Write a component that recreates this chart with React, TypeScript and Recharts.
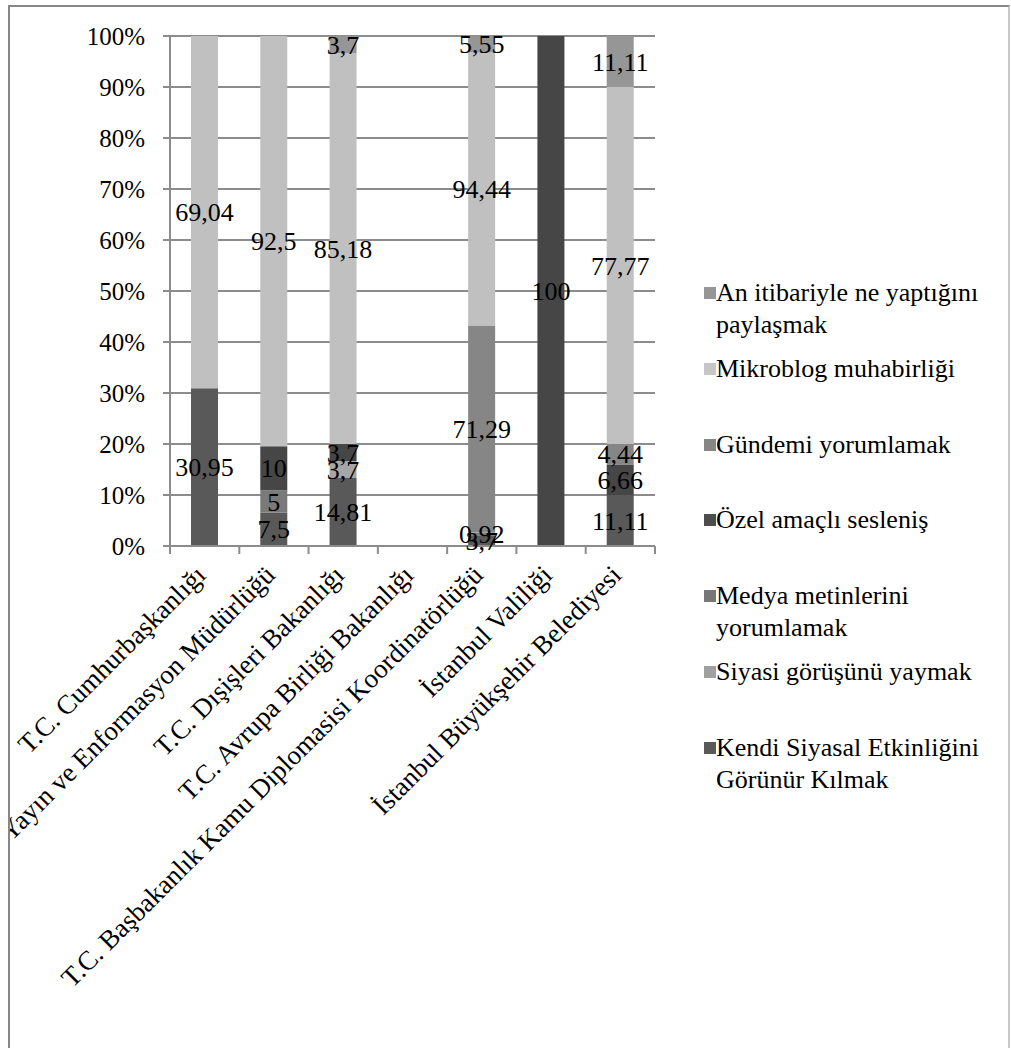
import React from 'react';
import { BarChart, Bar, XAxis, YAxis, CartesianGrid, LabelList } from 'recharts';

const categories = [
  'T.C. Cumhurbaşkanlığı',
  'Yayın ve Enformasyon Müdürlüğü',
  'T.C. Dışişleri Bakanlığı',
  'T.C. Avrupa Birliği Bakanlığı',
  'T.C. Başbakanlık Kamu Diplomasisi Koordinatörlüğü',
  'İstanbul Valiliği',
  'İstanbul Büyükşehir Belediyesi',
];

// series, bottom of stack first
const kendiSiyasal = [30.95, 7.5, 14.81, 0, 3.7, 0, 11.11];
const siyasiGorus = [0, 0, 3.7, 0, 0, 0, 0];
const medyaMetin = [0, 5, 0, 0, 0.92, 0, 0];
const ozelAmacli = [0, 10, 3.7, 0, 0, 100, 6.66];
const gundemi = [0, 0, 0, 0, 71.29, 0, 4.44];
const mikroblog = [69.04, 92.5, 85.18, 0, 94.44, 0, 77.77];
const anItibariyle = [0, 0, 3.7, 0, 5.55, 0, 11.11];

const seriesNames = [
  'Kendi Siyasal Etkinliğini Görünür Kılmak',
  'Siyasi görüşünü yaymak',
  'Medya metinlerini yorumlamak',
  'Özel amaçlı sesleniş',
  'Gündemi yorumlamak',
  'Mikroblog muhabirliği',
  'An itibariyle ne yaptığını paylaşmak',
];
const seriesValues = [kendiSiyasal, siyasiGorus, medyaMetin, ozelAmacli, gundemi, mikroblog, anItibariyle];
const seriesColors = ['#595959', '#a6a6a6', '#7a7a7a', '#464646', '#868686', '#c0c0c0', '#969696'];
const legendColors = ['#595959', '#a0a0a0', '#777777', '#4d4d4d', '#868686', '#c6c6c6', '#969696'];

const yTicks = [0, 0.1, 0.2, 0.3, 0.4, 0.5, 0.6, 0.7, 0.8, 0.9, 1];

const keys = seriesNames.map((_, i) => 's' + i);
const data = categories.map((c, ci) => {
  const row: any = { name: c };
  seriesValues.forEach((vals, si) => {
    row[keys[si]] = vals[ci];
  });
  return row;
});

const FONT = "Liberation Serif, DejaVu Serif, serif";
const GRID = '#8c8c8c';

const fmt = (v: number) => String(v).replace('.', ',');

const SegLabel = (props: any) => {
  const vb = props.viewBox || props;
  const { x, y, width, height } = vb;
  const v = props.value;
  if (!v) return null;
  return (
    <text
      x={x + width / 2}
      y={y + height / 2}
      dy="0.35em"
      textAnchor="middle"
      style={{ fontFamily: FONT }}
      fontSize={26}
      fill="#000"
    >
      {fmt(v)}
    </text>
  );
};

const XTick = (props: any) => {
  const { x, y, payload, index } = props;
  const half = payload && typeof payload.offset === 'number' && payload.offset > 0 ? payload.offset : 34.64;
  const idx = payload && typeof payload.index === 'number' ? payload.index : index;
  const last = idx === categories.length - 1;
  const ax = x - 4;
  const ay = y + 24;
  return (
    <g>
      <line x1={x - half} x2={x - half} y1={y} y2={y + 8} stroke={GRID} strokeWidth={2} />
      {last && <line x1={x + half} x2={x + half} y1={y} y2={y + 8} stroke={GRID} strokeWidth={2} />}
      <text
        x={ax}
        y={ay}
        dy="0.35em"
        textAnchor="end"
        transform={`rotate(-45, ${ax}, ${ay})`}
        style={{ fontFamily: FONT }}
        fontSize={27}
        fill="#000"
      >
        {payload.value}
      </text>
    </g>
  );
};

const legendOrder = [6, 5, 4, 3, 2, 1, 0];

export default function App() {
  return (
    <div
      style={{
        position: 'fixed',
        left: 8,
        top: 5,
        width: 1002,
        height: 1070,
        boxSizing: 'border-box',
        border: '2px solid #878787',
        borderRightColor: '#c8c8c8',
        background: '#fff',
        fontFamily: FONT,
        overflow: 'hidden',
      }}
    >
      <BarChart
        width={998}
        height={1040}
        data={data}
        stackOffset="expand"
        margin={{ top: 29, right: 353, bottom: 101, left: 0 }}
        style={{ fontFamily: FONT }}
      >
        <CartesianGrid vertical={false} stroke={GRID} strokeWidth={2} />
        <YAxis
          type="number"
          domain={[0, 1]}
          ticks={yTicks}
          width={160}
          tickFormatter={(v: number) => `${Math.round(v * 100)}%`}
          axisLine={{ stroke: GRID, strokeWidth: 2 }}
          tickLine={{ stroke: GRID, strokeWidth: 2 }}
          tickSize={7}
          tickMargin={18}
          tick={{ fill: '#000', fontSize: 25, fontFamily: FONT, style: { fontFamily: FONT } }}
        />
        <XAxis
          dataKey="name"
          type="category"
          interval={0}
          height={400}
          axisLine={{ stroke: GRID, strokeWidth: 2 }}
          tickLine={false}
          tickSize={0}
          tickMargin={0}
          tick={<XTick />}
        />
        {keys.map((k, i) => (
          <Bar
            key={k}
            dataKey={k}
            stackId="a"
            fill={seriesColors[i]}
            barSize={27}
            isAnimationActive={false}
          >
            <LabelList dataKey={k} position="center" content={<SegLabel />} />
          </Bar>
        ))}
      </BarChart>
      <div
        style={{
          position: 'absolute',
          left: 692,
          top: 270,
          width: 300,
          fontFamily: FONT,
          fontSize: 26,
          color: '#000',
        }}
      >
        {legendOrder.map((si, i) => (
          <div key={si} style={{ position: 'absolute', left: 0, top: i * 75.8, width: 300 }}>
            <span
              style={{
                position: 'absolute',
                left: 2,
                top: 10,
                width: 12,
                height: 12,
                background: legendColors[si],
              }}
            />
            <div style={{ marginLeft: 14, width: 285, lineHeight: '32px' }}>{seriesNames[si]}</div>
          </div>
        ))}
      </div>
    </div>
  );
}
